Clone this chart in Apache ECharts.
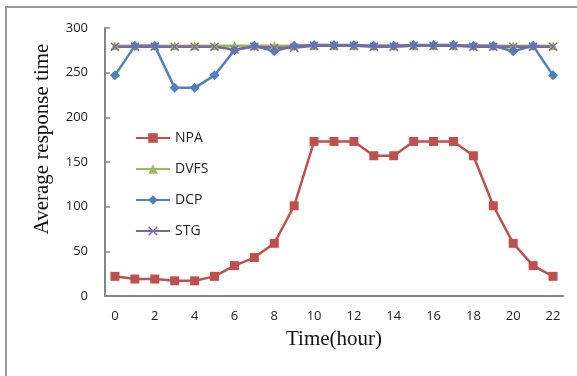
<!DOCTYPE html>
<html>
<head>
<meta charset="utf-8">
<script src="https://cdn.jsdelivr.net/npm/echarts@6/dist/echarts.min.js"></script>
<style>
  html, body { margin: 0; padding: 0; background: #fff; }
  #main { width: 577px; height: 376px; }
</style>
</head>
<body>
<div id="main"></div>
<script>
// hours on the x axis
var hours = ['0','1','2','3','4','5','6','7','8','9','10','11','12','13','14','15','16','17','18','19','20','21','22'];

// values
var npa  = [22, 19, 19, 17, 17, 22, 34, 43, 59, 101, 173, 173, 173, 157, 157, 173, 173, 173, 157, 101, 59, 34, 22];
var dvfs = [280, 280, 280, 280, 280, 280, 280, 280, 280, 280, 280, 280, 280, 280, 280, 280, 280, 280, 280, 280, 280, 280, 280];
var dcp  = [247, 280, 280, 233, 233, 247, 275, 280, 274, 280, 281, 281, 281, 280, 280, 281, 281, 281, 280, 280, 274, 280, 247];
var stg  = [279, 279, 279, 279, 279, 279, 276, 279, 278, 278, 280, 280, 280, 279, 279, 280, 280, 280, 279, 279, 279, 279, 279];

var yTicks = { min: 0, max: 300, step: 50 };

var crossPath = 'path://M0,1L1,0L5,4L9,0L10,1L6,5L10,9L9,10L5,6L1,10L0,9L4,5Z';

var chart = echarts.init(document.getElementById('main'));

function lineSeries(name, data, color, symbol, size) {
  return {
    name: name,
    type: 'line',
    data: data,
    symbol: symbol,
    symbolSize: size,
    showSymbol: true,
    lineStyle: { color: color, width: 2.5 },
    itemStyle: { color: color },
    emphasis: { disabled: true },
    animation: false
  };
}

var option = {
  backgroundColor: '#fff',
  animation: false,
  grid: { left: 105, right: 14, top: 28, bottom: 80, containLabel: false },
  legend: {
    orient: 'vertical',
    left: 130,
    top: 126,
    itemWidth: 34,
    itemHeight: 12,
    itemGap: 17,
    textStyle: { fontFamily: 'Open Sans', fontSize: 14, color: '#222' },
    data: ['NPA', 'DVFS', 'DCP', 'STG']
  },
  xAxis: {
    type: 'category',
    data: hours,
    boundaryGap: true,
    axisLine: { lineStyle: { color: '#868686', width: 2 } },
    axisTick: { show: false },
    axisLabel: { interval: 1, margin: 14, fontFamily: 'Open Sans', fontSize: 13, color: '#222' },
    splitLine: { show: false },
    name: 'Time(hour)',
    nameLocation: 'middle',
    nameGap: 33,
    nameTextStyle: { fontFamily: 'Liberation Serif', fontSize: 21, color: '#111' }
  },
  yAxis: {
    type: 'value',
    min: yTicks.min,
    max: yTicks.max,
    interval: yTicks.step,
    axisLine: { show: true, lineStyle: { color: '#868686', width: 2 } },
    axisTick: { show: true, inside: true, length: 5, lineStyle: { color: '#868686', width: 1.5 } },
    axisLabel: { margin: 17, fontFamily: 'Open Sans', fontSize: 13, color: '#222' },
    splitLine: { show: false }
  },
  graphic: [
    {
      type: 'rect',
      shape: { x: 6, y: 7, width: 620, height: 420 },
      style: { fill: 'none', stroke: '#9a9a9a', lineWidth: 2 },
      silent: true
    },
    {
      type: 'text',
      x: 42,
      y: 139,
      rotation: Math.PI / 2,
      style: {
        text: 'Average response time',
        fontFamily: 'Liberation Serif',
        fontSize: 21,
        fill: '#111',
        textAlign: 'center',
        textVerticalAlign: 'middle'
      },
      silent: true
    }
  ],
  series: [
    lineSeries('NPA', npa, '#C0504D', 'rect', 9),
    lineSeries('DVFS', dvfs, '#9BBB59', 'triangle', 9),
    lineSeries('DCP', dcp, '#4F81BD', 'diamond', 10),
    lineSeries('STG', stg, '#8064A2', crossPath, 9)
  ]
};

chart.setOption(option);
</script>
</body>
</html>
